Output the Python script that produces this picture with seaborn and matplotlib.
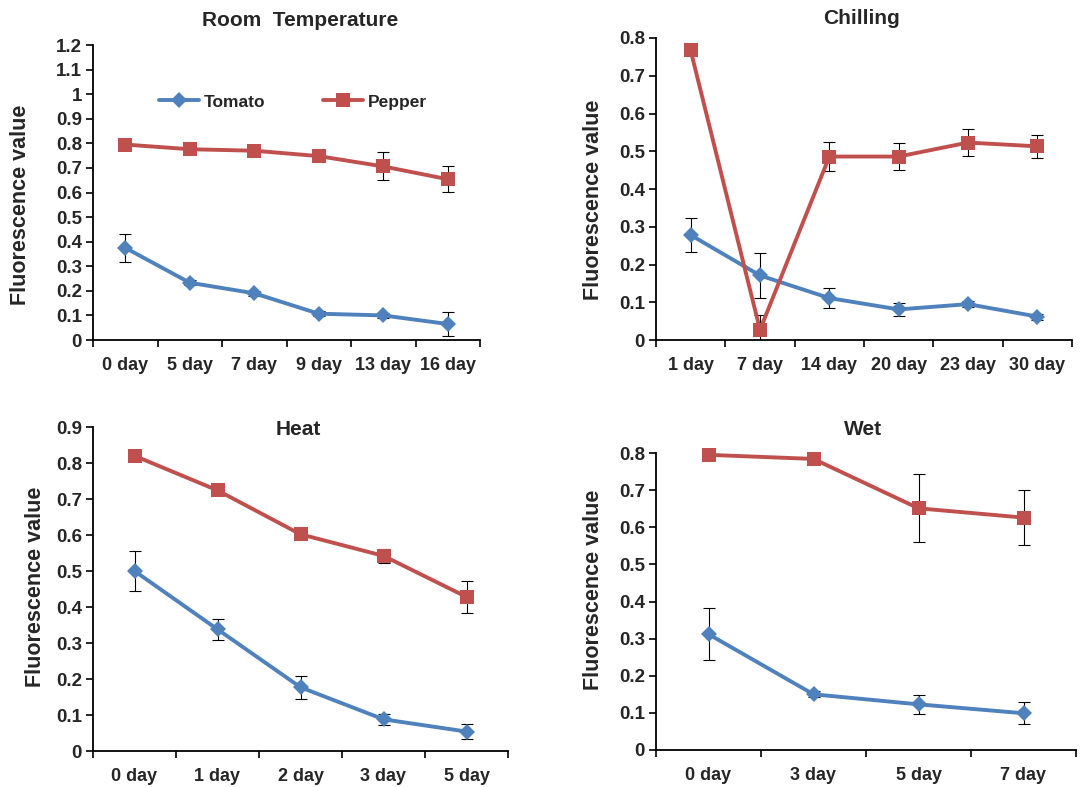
import numpy as np
import matplotlib
matplotlib.use("Agg")
from matplotlib import pyplot as plt
from matplotlib.ticker import FixedLocator, MultipleLocator, NullFormatter, FuncFormatter
import seaborn as sns

# data
room_days = ["0 day", "5 day", "7 day", "9 day", "13 day", "16 day"]
room_tomato = [0.375, 0.233, 0.19, 0.107, 0.10, 0.065]
room_tomato_err = [0.058, 0.01, 0.01, 0.01, 0.01, 0.05]
room_pepper = [0.795, 0.776, 0.77, 0.748, 0.706, 0.654]
room_pepper_err = [0.01, 0.01, 0.01, 0.01, 0.057, 0.053]

chill_days = ["1 day", "7 day", "14 day", "20 day", "23 day", "30 day"]
chill_tomato = [0.278, 0.171, 0.111, 0.081, 0.095, 0.062]
chill_tomato_err = [0.045, 0.06, 0.026, 0.017, 0.008, 0.008]
chill_pepper = [0.767, 0.027, 0.486, 0.486, 0.523, 0.513]
chill_pepper_err = [0.008, 0.04, 0.038, 0.035, 0.035, 0.03]

heat_days = ["0 day", "1 day", "2 day", "3 day", "5 day"]
heat_tomato = [0.50, 0.338, 0.177, 0.088, 0.054]
heat_tomato_err = [0.056, 0.03, 0.032, 0.015, 0.02]
heat_pepper = [0.82, 0.724, 0.602, 0.542, 0.428]
heat_pepper_err = [0.008, 0.008, 0.008, 0.02, 0.045]

wet_days = ["0 day", "3 day", "5 day", "7 day"]
wet_tomato = [0.312, 0.15, 0.123, 0.099]
wet_tomato_err = [0.07, 0.008, 0.025, 0.03]
wet_pepper = [0.795, 0.784, 0.651, 0.626]
wet_pepper_err = [0.006, 0.006, 0.092, 0.075]

blue = "#4F81BD"
red = "#C0504D"

sns.set_style("ticks")
plt.rcParams['font.family'] = ['Liberation Sans', 'DejaVu Sans']
plt.rcParams['font.weight'] = 'bold'

W, H = 1092, 787
fig = plt.figure(figsize=(W / 100, H / 100), dpi=100)


def make_ax(left, right, top, bottom):
    return fig.add_axes([left / W, 1 - bottom / H, (right - left) / W, (bottom - top) / H])


def panel(ax, days, tom, tom_err, pep, pep_err, ymax, title, title_xy, ylab_px, ylab_y):
    x = np.arange(len(days))
    sns.lineplot(x=x, y=tom, ax=ax, color=blue, marker="D", markersize=8.5,
                 markeredgewidth=0, linewidth=2.8, label="Tomato", zorder=3, clip_on=False)
    sns.lineplot(x=x, y=pep, ax=ax, color=red, marker="s", markersize=10,
                 markeredgewidth=0, linewidth=2.8, label="Pepper", zorder=3, clip_on=False)
    ax.errorbar(x, tom, yerr=tom_err, fmt="none", ecolor="black",
                elinewidth=0.8, capsize=4, capthick=0.8, zorder=2)
    ax.errorbar(x, pep, yerr=pep_err, fmt="none", ecolor="black",
                elinewidth=0.8, capsize=4, capthick=0.8, zorder=2)
    if ax.get_legend() is not None:
        ax.get_legend().remove()
    ax.set_xlim(-0.5, len(days) - 0.5)
    ax.set_ylim(0, ymax)
    ax.yaxis.set_major_locator(MultipleLocator(0.1))
    ax.yaxis.set_major_formatter(FuncFormatter(lambda v, p: ("%g" % round(v, 1))))
    ax.xaxis.set_major_locator(FixedLocator(np.arange(len(days) + 1) - 0.5))
    ax.xaxis.set_major_formatter(NullFormatter())
    ax.xaxis.set_minor_locator(FixedLocator(x))
    ax.set_xticklabels(days, minor=True)
    ax.tick_params(axis="x", which="minor", length=0, pad=12, labelsize=13)
    ax.tick_params(axis="x", which="major", length=5, width=1.2, color="black")
    ax.tick_params(axis="y", length=5, width=1.2, color="black", labelsize=13.5, pad=3)
    for lab in ax.get_xticklabels(minor=True) + ax.get_yticklabels():
        lab.set_fontweight("bold")
    sns.despine(ax=ax)
    for s in ["left", "bottom"]:
        ax.spines[s].set_linewidth(1.3)
        ax.spines[s].set_color("black")
    ax.set_xlabel("")
    ax.set_ylabel("Fluorescence value", fontsize=15.5, fontweight="bold")
    bb = ax.get_position()
    ax.yaxis.set_label_coords(ylab_px / (bb.width * W),
                              ((H - ylab_y) / H - bb.y0) / bb.height)
    fig.text(title_xy[0] / W, 1 - title_xy[1] / H, title, ha="center", va="center",
             fontsize=15, fontweight="bold")


ax1 = make_ax(93, 480, 45, 340)
panel(ax1, room_days, room_tomato, room_tomato_err, room_pepper, room_pepper_err,
      1.2, "Room  Temperature", (300, 20), -62, 205)
ax2 = make_ax(656, 1072, 38, 340)
panel(ax2, chill_days, chill_tomato, chill_tomato_err, chill_pepper, chill_pepper_err,
      0.8, "Chilling", (861, 19), -52, 200)
ax3 = make_ax(93, 508, 427, 751)
panel(ax3, heat_days, heat_tomato, heat_tomato_err, heat_pepper, heat_pepper_err,
      0.9, "Heat", (298, 429), -47, 587)
ax4 = make_ax(656, 1076, 453, 750)
panel(ax4, wet_days, wet_tomato, wet_tomato_err, wet_pepper, wet_pepper_err,
      0.8, "Wet", (863, 429), -52, 590)

handles, labels = ax1.get_legend_handles_labels()
leg = ax1.legend(handles[:2], labels[:2], loc="center left", bbox_to_anchor=(0.17, 0.807),
                 ncol=2, frameon=False, handlelength=2.3, handletextpad=0.3,
                 columnspacing=3.3, borderpad=0, borderaxespad=0,
                 prop={"size": 12.5, "weight": "bold"})

fig.savefig("out.png", dpi=100)
